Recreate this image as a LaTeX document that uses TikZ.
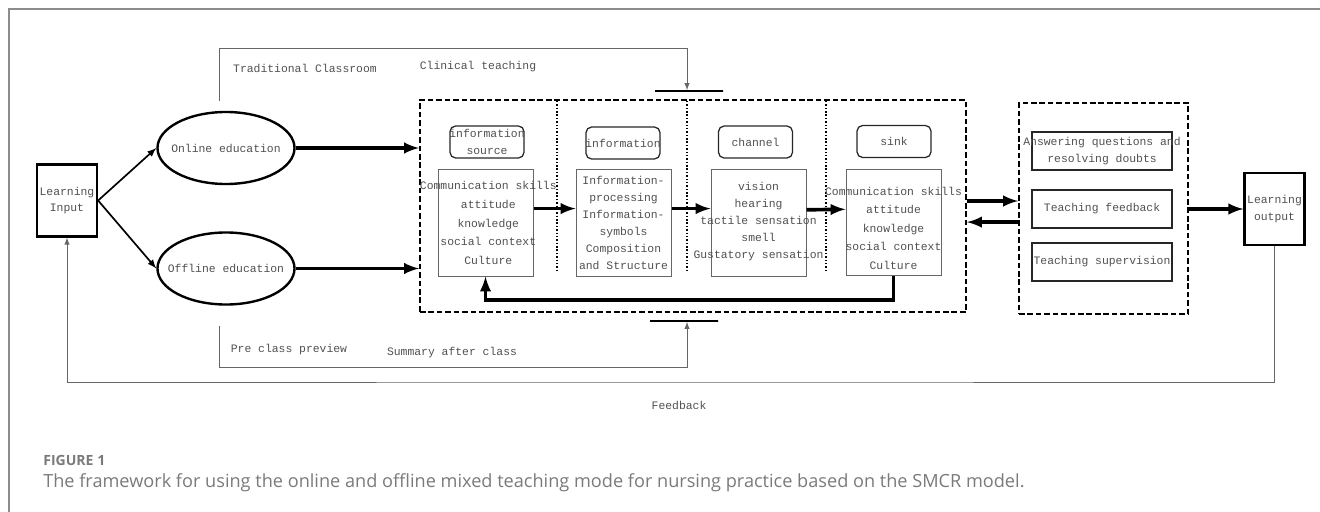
\documentclass[tikz,border=0pt]{standalone}
\usepackage{fontspec}
\usepackage{tikz}
\usetikzlibrary{arrows,shapes}
\newfontfamily\diagfont{Liberation Mono}
\newfontfamily\capfont{Open Sans}
\definecolor{txtgray}{HTML}{505050}
\definecolor{linegray}{HTML}{666666}
\definecolor{framegray}{HTML}{8C8C8C}
\definecolor{capgray}{HTML}{7A7A7A}

\begin{document}
\begin{tikzpicture}[x=0.025cm,y=-0.025cm,
	lbl/.style={font=\diagfont\fontsize{8.1}{12}\selectfont,text=txtgray,align=center,inner sep=0pt},
	lblwide/.style={lbl,font=\diagfont\fontsize{8.1}{13.2}\selectfont},
	endbox/.style={draw,line width=1.6pt,minimum width=1.5cm,minimum height=1.8cm,inner sep=0pt},
	edu/.style={ellipse,draw,line width=1.7pt,minimum width=3.425cm,minimum height=1.8cm,inner sep=0pt},
	ttlbox/.style={draw=black!85,line width=0.9pt,rounded corners=4pt,minimum width=1.85cm,minimum height=0.8cm,inner sep=0pt},
	itembox/.style={draw=linegray,line width=0.7pt,minimum width=2.375cm,minimum height=2.65cm,inner sep=0pt},
	tbox/.style={draw=black!85,line width=1pt,minimum width=3.5cm,minimum height=0.95cm,inner sep=0pt},
	dashbox/.style={draw,line width=1.3pt,dash pattern=on 4pt off 2pt,inner sep=0pt},
	sepline/.style={line width=1.1pt,dash pattern=on 1pt off 1.4pt},
	barline/.style={draw,line width=1.3pt,minimum width=1.7cm,minimum height=0pt,inner sep=0pt},
	fat/.style={-latex,line width=2.6pt},
	thinarr/.style={-latex,line width=1.2pt},
	guide/.style={-latex,draw=linegray,line width=0.7pt}
]
	\useasboundingbox (0,0) rectangle (1320,512);
	\draw[framegray,line width=1.1pt] (9,512) -- (9,9) -- (1320,9);
	
	\node[endbox,lbl,text=txtgray] (inp) at (67,200.5) {Learning\\Input};
	\node[edu,label={[lbl]center:Online education}] (onl) at (226,148) {};
	\node[edu,label={[lbl]center:Offline education}] (off) at (226,268.5) {};
	
	\node[dashbox,minimum width=13.65cm,minimum height=5.3cm] (smcr) at (693,206) {};
	\draw[sepline] (557,101) -- (557,271);
	\draw[sepline] (687,101) -- (687,271);
	\draw[sepline] (826,101) -- (826,271);
	
	\node[ttlbox,label={[lbl]center:information\\source}] (srct) at (487,142) {};
	\node[ttlbox,label={[lbl]center:information}] (msgt) at (623,143) {};
	\node[ttlbox,label={[lbl]center:channel}] (chnt) at (755.5,142) {};
	\node[ttlbox,label={[lbl]center:sink}] (snkt) at (894,141.5) {};
	
	\node[itembox,label={[lblwide,xshift=2pt]center:Communication skills\\attitude\\knowledge\\social context\\Culture}] (src) at (485.5,223) {};
	\node[itembox,label={[lbl]center:Information-\\processing\\Information-\\symbols\\Composition\\and Structure}] (msg) at (623.5,223) {};
	\node[itembox,label={[lbl,yshift=1pt]center:vision\\hearing\\tactile sensation\\smell\\Gustatory sensation}] (chn) at (758.5,223) {};
	\node[itembox,label={[lblwide,yshift=-4pt]center:Communication skills\\attitude\\knowledge\\social context\\Culture}] (snk) at (893.5,222.5) {};
	
	\node[dashbox,minimum width=4.225cm,minimum height=5.275cm] (rdb) at (1103.5,208.5) {};
	\node[tbox,label={[lbl]center:Answering questions and\\resolving doubts}] (ans) at (1102,151) {};
	\node[tbox,label={[lbl]center:Teaching feedback}] (tfb) at (1102,209) {};
	\node[tbox,label={[lbl]center:Teaching supervision}] (tsv) at (1102,262) {};
	\node[endbox,lbl,text=txtgray] (out) at (1274.5,209) {Learning\\output};
	
	\draw[thinarr] (inp.east) -- (onl.west);
	\draw[thinarr] (inp.east) -- (off.west);
	\draw[fat] (onl.east) -- (onl.east -| smcr.west);
	\draw[fat] (off.east) -- (off.east -| smcr.west);
	\draw[fat] ([yshift=0.36cm]src.east) -- ([yshift=0.36cm]msg.west);
	\draw[fat] ([yshift=0.36cm]msg.east) -- ([yshift=0.36cm]chn.west);
	\draw[fat] ([yshift=0.33cm]chn.east) -- ([yshift=0.33cm]snk.west);
	\draw[fat] (snk.south) -- ++(0,24) -| (src.south);
	\draw[fat] ([yshift=0.125cm]smcr.east) -- ([yshift=0.125cm]smcr.east -| rdb.west);
	\draw[fat] ([yshift=-0.34cm]rdb.west) -- ([yshift=-0.34cm]rdb.west -| smcr.east);
	\draw[fat] (rdb.east |- out) -- (out.west);
	
	% classroom / clinical bracket
	\node[barline] (tbar) at (689,91) {};
	\coordinate (tl) at (219,101);
	\coordinate (tc) at (687,48);
	\draw[guide] (tl) |- (tc) -- (tbar.north -| tc);
	\node[lbl] (trad) at (305,68) {Traditional Classroom};
	\node[lbl] (clin) at (478,67) {Clinical teaching};
	
	% preview / summary bracket
	\node[barline] (bbar) at (684,321) {};
	\coordinate (bl) at (219,326);
	\coordinate (bc) at (687,367);
	\draw[guide] (bl) |- (bc) -- (bbar.south -| bc);
	\node[lbl] (pre) at (289,350) {Pre class preview};
	\node[lbl] (summ) at (452,353) {Summary after class};
	
	% feedback loop
	\coordinate (fb) at (679,382);
	\draw[guide] (out.south) |- (fb) -| (inp.south);
	\node[lbl] (fbtxt) at (679,405) {Feedback};
	
	\node[anchor=west,inner sep=0pt,font=\capfont\bfseries\fontsize{10}{12}\selectfont,text=capgray] (fig) at (43,460) {FIGURE 1};
	\node[anchor=west,inner sep=0pt,font=\capfont\fontsize{12.9}{15}\selectfont,text=capgray] (cap) at (43,483) {The framework for using the online and offline mixed teaching mode for nursing practice based on the SMCR model.};
\end{tikzpicture}
\end{document}
